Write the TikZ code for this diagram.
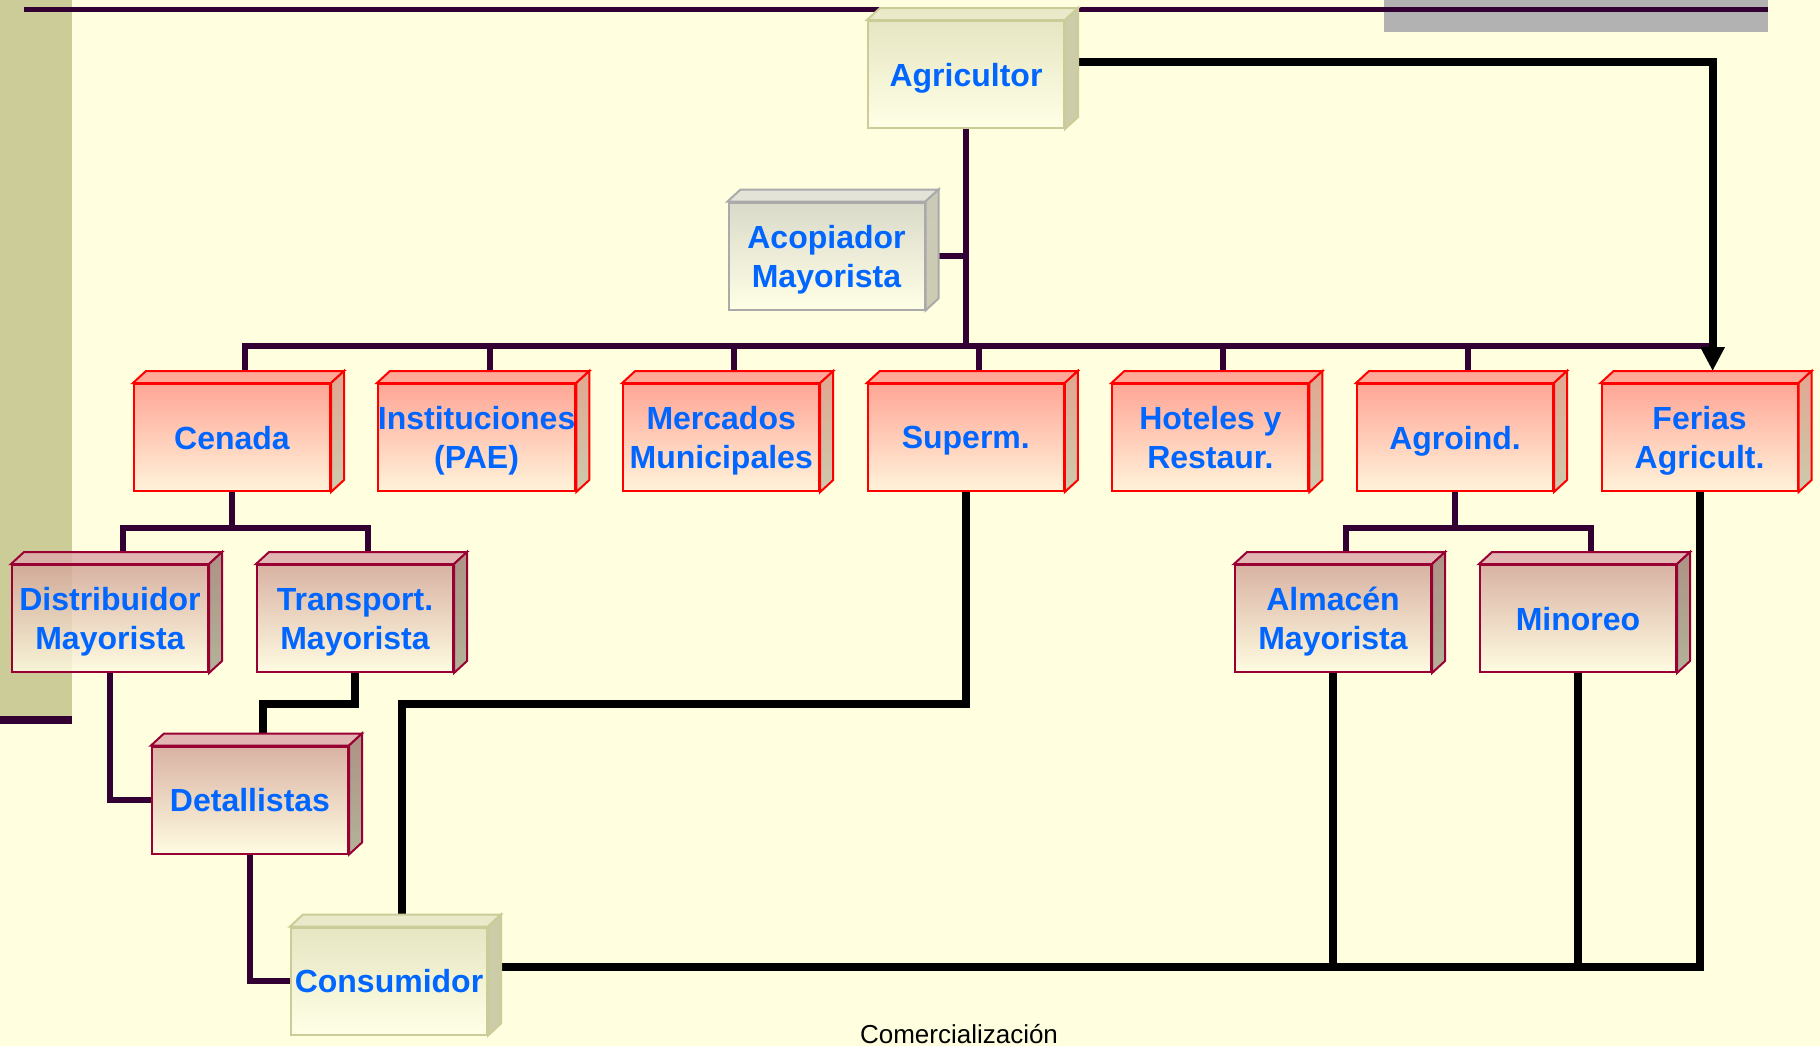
\documentclass[tikz,border=0pt]{standalone}
\usepackage{fontspec}
\setmainfont{Liberation Sans}
\usetikzlibrary{arrows.meta, backgrounds}

\definecolor{fondo}{HTML}{FFFFE0}
\definecolor{oliva}{HTML}{CCCC99}
\definecolor{morado}{HTML}{330033}
\definecolor{gris}{HTML}{B2B2B2}
\definecolor{azul}{HTML}{0066FF}
\definecolor{rojaA}{HTML}{FFA696}
\definecolor{rojaB}{HTML}{FFF3DA}
\definecolor{rojaTop}{HTML}{FFA898}
\definecolor{rojaLadoA}{HTML}{E2A690}
\definecolor{rojaLadoB}{HTML}{CCCBAE}
\definecolor{malvaA}{HTML}{D3A699}
\definecolor{malvaB}{HTML}{FFFBE2}
\definecolor{malvaTop}{HTML}{DDAAAA}
\definecolor{malvaLadoA}{HTML}{C6A596}
\definecolor{malvaLadoB}{HTML}{CCCCAE}
\definecolor{malvaBorde}{HTML}{990033}
\definecolor{cremaA}{HTML}{E6E6C3}
\definecolor{cremaB}{HTML}{FFFFE6}
\definecolor{cremaTop}{HTML}{EAEACA}
\definecolor{cremaLado}{HTML}{CCCCA8}
\definecolor{cremaBorde}{HTML}{CCCC99}
\definecolor{grisA}{HTML}{DADACA}
\definecolor{grisB}{HTML}{FFFFE6}
\definecolor{grisTop}{HTML}{E3E3D8}
\definecolor{grisLadoA}{HTML}{CACAB8}
\definecolor{grisLadoB}{HTML}{CCCCB2}
\definecolor{grisBorde}{HTML}{AAAAAA}

\begin{document}
\begin{tikzpicture}[x=0.5pt, y=-0.5pt, >={Triangle[width=11.5pt, length=12pt]},
  caja/.style={draw, line width=1pt, minimum width=98pt, minimum height=53.5pt, inner sep=0pt,
    text depth=0pt, align=center, text=azul, font=\bfseries\fontsize{16}{19.5}\selectfont},
  caras/.style n args={5}{append after command={\pgfextra{\pgfinterruptpath
    \filldraw[fill=#1, draw=#4, line width=1pt, fill opacity=#5]
      (\tikzlastnode.north west) -- ++(13,-12) -- ([shift={(6.5pt,6pt)}]\tikzlastnode.north east)
      -- (\tikzlastnode.north east) -- cycle;
    \filldraw[top color=#2, bottom color=#3, draw=#4, line width=1pt, fill opacity=#5]
      (\tikzlastnode.north east) -- ([shift={(6.5pt,6pt)}]\tikzlastnode.north east)
      -- ([shift={(6.5pt,6pt)}]\tikzlastnode.south east) -- (\tikzlastnode.south east) -- cycle;
    \endpgfinterruptpath}}},
  roja/.style={caja, draw=red, top color=rojaA, bottom color=rojaB,
    caras={rojaTop}{rojaLadoA}{rojaLadoB}{red}{1}},
  malva/.style={caja, draw=malvaBorde, top color=malvaA, bottom color=malvaB, fill opacity=0.85, text opacity=1,
    caras={malvaTop}{malvaLadoA}{malvaLadoB}{malvaBorde}{0.85}},
  crema/.style={caja, draw=cremaBorde, top color=cremaA, bottom color=cremaB,
    caras={cremaTop}{cremaLado}{cremaLado}{cremaBorde}{1}},
  grisbox/.style={caja, draw=grisBorde, top color=grisA, bottom color=grisB,
    caras={grisTop}{grisLadoA}{grisLadoB}{grisBorde}{1}},
  linea/.style={draw=morado, line width=3pt},
  gruesa/.style={draw=black, line width=4pt}]

\useasboundingbox (0,0) rectangle (1820,1046);

% Slide background
\begin{scope}[on background layer]
\fill[fondo] (0,0) rectangle (1820,1046);
\fill[oliva] (0,0) rectangle (72,716);
\fill[morado] (0,716) rectangle (72,724);
\fill[gris] (1384,0) rectangle (1768,32);
\draw[morado, line width=2.2pt] (24,9.5) -- (1768,9.5);
\end{scope}

% Productor y acopio
\node[crema] (agr) at (966,74.5) {Agricultor};
\node[grisbox] (acop) at (826.5,256) {Acopiador\\Mayorista};

% Canales del primer nivel
\node[roja] (cenada) at (232,437.5) {Cenada};
\node[roja] (inst) at (476.6,437.5) {Instituciones\\(PAE)};
\node[roja] (merc) at (721.2,437.5) {Mercados\\Municipales};
\node[roja] (super) at (965.8,437.5) {Superm.};
\node[roja] (hotel) at (1210.4,437.5) {Hoteles y\\Restaur.};
\node[roja] (agroind) at (1455,437.5) {Agroind.};
\node[roja] (ferias) at (1699.6,437.5) {Ferias\\Agricult.};

% Intermediarios
\node[malva] (dist) at (110,618.5) {Distribuidor\\Mayorista};
\node[malva] (trans) at (355,618.5) {Transport.\\Mayorista};
\node[malva] (alm) at (1333,618.5) {Almacén\\Mayorista};
\node[malva] (mino) at (1578,618.5) {Minoreo};
\node[malva] (det) at (250,800) {Detallistas};

% Consumidor final
\node[crema] (cons) at (389,981) {Consumidor};

% Caption
\node[anchor=base, font=\fontsize{13}{15}\selectfont] (titulo) at (959,1043) {Comercialización};

\begin{scope}[on background layer]
% Agricultor to the channels
\coordinate (cruce) at (966,346);
\draw[linea] (agr.south) -- (cruce);
\draw[linea] (acop.east) -- (acop.east -| cruce);
\draw[linea] ([shift={(6.5pt,6pt)}]cenada.north) |- ([xshift=6.5pt]ferias.north |- cruce);
\draw[linea] ([shift={(6.5pt,6pt)}]inst.north) -- ++(0,-26);
\draw[linea] ([shift={(6.5pt,6pt)}]merc.north) -- ++(0,-26);
\draw[linea] ([shift={(6.5pt,6pt)}]super.north) -- ++(0,-26);
\draw[linea] ([shift={(6.5pt,6pt)}]hotel.north) -- ++(0,-26);
\draw[linea] ([shift={(6.5pt,6pt)}]agroind.north) -- ++(0,-26);

% Direct sale at the fairs
\draw[gruesa, ->] ([yshift=6.5pt]agr.east) -| ([shift={(6.5pt,6pt)}]ferias.north);

% Cenada branch
\draw[linea] (cenada.south) -- ++(0,35.5) coordinate (cen-j);
\draw[linea] ([shift={(6.5pt,6pt)}]dist.north) |- (cen-j) -| ([shift={(6.5pt,6pt)}]trans.north);
\draw[linea] (dist.south) |- (det.west);
\draw[gruesa] (trans.south) -- ++(0,30.5) -| ([shift={(6.5pt,6pt)}]det.north);
\draw[linea] (det.south) |- (cons.west);

% Agroindustria branch
\draw[linea] (agroind.south) -- ++(0,35.5) coordinate (agro-j);
\draw[linea] ([shift={(6.5pt,6pt)}]alm.north) |- (agro-j) -| ([shift={(6.5pt,6pt)}]mino.north);

% Back to the consumer
\draw[gruesa] (super.south) -- ++(0,211.5) -| ([shift={(6.5pt,6pt)}]cons.north);
\coordinate (retorno) at ([yshift=7pt]cons.east);
\draw[gruesa] (retorno) -| (ferias.south);
\draw[gruesa] (alm.south) -- (alm.south |- retorno);
\draw[gruesa] (mino.south) -- (mino.south |- retorno);
\end{scope}

\end{tikzpicture}
\end{document}
